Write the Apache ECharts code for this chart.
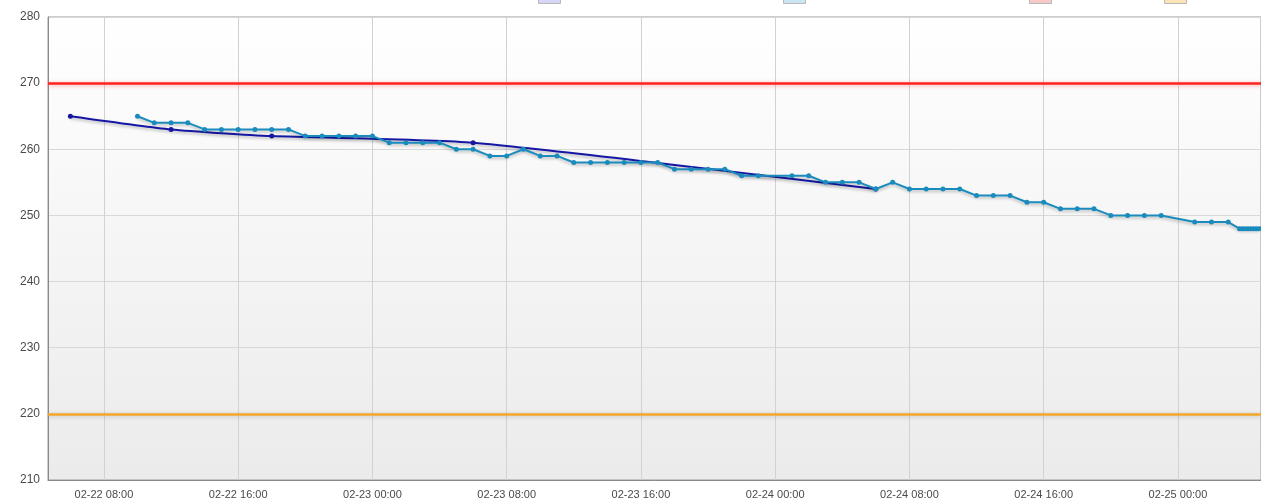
<!DOCTYPE html>
<html>
<head>
<meta charset="utf-8">
<title>液位趋势</title>
<script src="https://cdn.jsdelivr.net/npm/echarts@6/dist/echarts.min.js"></script>
<style>
html, body { margin: 0; padding: 0; background: #fff; }
#chart { width: 1261px; height: 501px; }
</style>
</head>
<body>
<div id="chart"></div>
<script>
// 图例名称
const seriesNames = ['人工录入', '实时液位', '上限', '下限']

// 横轴范围与刻度
const xRange = ['2024-02-22 04:40', '2024-02-25 04:57']
const xTicks = [
  '2024-02-22 08:00', '2024-02-22 16:00', '2024-02-23 00:00',
  '2024-02-23 08:00', '2024-02-23 16:00', '2024-02-24 00:00',
  '2024-02-24 08:00', '2024-02-24 16:00', '2024-02-25 00:00'
]
const yRange = [210, 280]
const yStep = 10

// 人工录入
const manualTimes = ['2024-02-22 06:00', '2024-02-22 12:00', '2024-02-22 18:00', '2024-02-23 06:00', '2024-02-24 06:00']
const manualValues = [265, 263, 262, 261, 254]

// 实时液位
const liveTimes = [
  '2024-02-22 10:00', '2024-02-22 11:00', '2024-02-22 12:00', '2024-02-22 13:00', '2024-02-22 14:00',
  '2024-02-22 15:00', '2024-02-22 16:00', '2024-02-22 17:00', '2024-02-22 18:00', '2024-02-22 19:00',
  '2024-02-22 20:00', '2024-02-22 21:00', '2024-02-22 22:00', '2024-02-22 23:00', '2024-02-23 00:00',
  '2024-02-23 01:00', '2024-02-23 02:00', '2024-02-23 03:00', '2024-02-23 04:00', '2024-02-23 05:00',
  '2024-02-23 06:00', '2024-02-23 07:00', '2024-02-23 08:00', '2024-02-23 09:00', '2024-02-23 10:00',
  '2024-02-23 11:00', '2024-02-23 12:00', '2024-02-23 13:00', '2024-02-23 14:00', '2024-02-23 15:00',
  '2024-02-23 16:00', '2024-02-23 17:00', '2024-02-23 18:00', '2024-02-23 19:00', '2024-02-23 20:00',
  '2024-02-23 21:00', '2024-02-23 22:00', '2024-02-23 23:00', '2024-02-24 01:00', '2024-02-24 02:00',
  '2024-02-24 03:00', '2024-02-24 04:00', '2024-02-24 05:00', '2024-02-24 06:00', '2024-02-24 07:00',
  '2024-02-24 08:00', '2024-02-24 09:00', '2024-02-24 10:00', '2024-02-24 11:00', '2024-02-24 12:00',
  '2024-02-24 13:00', '2024-02-24 14:00', '2024-02-24 15:00', '2024-02-24 16:00', '2024-02-24 17:00',
  '2024-02-24 18:00', '2024-02-24 19:00', '2024-02-24 20:00', '2024-02-24 21:00', '2024-02-24 22:00',
  '2024-02-24 23:00', '2024-02-25 01:00', '2024-02-25 02:00', '2024-02-25 03:00',
  '2024-02-25 03:40', '2024-02-25 03:50', '2024-02-25 04:00', '2024-02-25 04:10', '2024-02-25 04:20',
  '2024-02-25 04:30', '2024-02-25 04:40', '2024-02-25 04:50'
]
const liveValues = [
  265, 264, 264, 264, 263,
  263, 263, 263, 263, 263,
  262, 262, 262, 262, 262,
  261, 261, 261, 261, 260,
  260, 259, 259, 260, 259,
  259, 258, 258, 258, 258,
  258, 258, 257, 257, 257,
  257, 256, 256, 256, 256,
  255, 255, 255, 254, 255,
  254, 254, 254, 254, 253,
  253, 253, 252, 252, 251,
  251, 251, 250, 250, 250,
  250, 249, 249, 249,
  248, 248, 248, 248, 248,
  248, 248, 248
]

// 上下限
const upperLimit = 270
const lowerLimit = 220

const toPairs = (times, values) => times.map((t, i) => [t, values[i]])
const tickStamps = xTicks.map(t => echarts.time.parse(t).getTime())

const chart = echarts.init(document.getElementById('chart'))

const limitSeries = (name, value, color, glow) => ({
  name,
  type: 'line',
  data: [],
  itemStyle: { color },
  markLine: {
    silent: true,
    symbol: 'none',
    label: { show: false },
    lineStyle: {
      color,
      type: 'solid',
      width: 2.5,
      shadowColor: glow,
      shadowBlur: 4,
      shadowOffsetY: 1
    },
    data: [{ yAxis: value }]
  }
})

// 图例只露出底边
const legendAt = (name, left, fill) => ({
  left,
  top: -15,
  padding: 0,
  icon: 'rect',
  itemWidth: 22,
  itemHeight: 18,
  textStyle: { color: '#333', fontSize: 11 },
  data: [{ name, itemStyle: { color: fill, borderColor: '#b8b8b8', borderWidth: 1 } }]
})

const option = {
  animation: false,
  legend: [
    legendAt(seriesNames[0], 538, '#d6d6f7'),
    legendAt(seriesNames[1], 783, '#cbe6f2'),
    legendAt(seriesNames[2], 1029, '#f8c9c9'),
    legendAt(seriesNames[3], 1164, '#fbe4b8')
  ],
  grid: {
    left: 48,
    right: -3,
    top: 17,
    bottom: 21,
    show: true,
    borderColor: '#9a9a9a',
    borderWidth: 1,
    backgroundColor: new echarts.graphic.LinearGradient(0, 0, 0, 1, [
      { offset: 0, color: '#ffffff' },
      { offset: 1, color: '#ebebeb' }
    ])
  },
  xAxis: {
    type: 'time',
    min: xRange[0],
    max: xRange[1],
    axisLine: { lineStyle: { color: '#8a8a8a', width: 1 } },
    axisTick: { show: false, customValues: tickStamps },
    axisLabel: {
      customValues: tickStamps,
      formatter: '{MM}-{dd} {HH}:{mm}',
      color: '#4a4a4a',
      fontSize: 11,
      fontFamily: 'Liberation Sans, Arial, sans-serif',
      margin: 9
    },
    splitLine: { show: true, lineStyle: { color: '#d2d2d2' } }
  },
  yAxis: {
    type: 'value',
    min: yRange[0],
    max: yRange[1],
    interval: yStep,
    axisLine: { show: true, lineStyle: { color: '#8a8a8a' } },
    axisTick: { show: false },
    axisLabel: {
      color: '#4a4a4a',
      fontSize: 12,
      fontFamily: 'Liberation Sans, Arial, sans-serif',
      margin: 8
    },
    splitLine: { lineStyle: { color: '#d8d8d8' } }
  },
  series: [
    {
      name: seriesNames[0],
      type: 'line',
      data: toPairs(manualTimes, manualValues),
      smooth: 0.2,
      symbol: 'circle',
      symbolSize: 5,
      itemStyle: { color: '#1616a4' },
      lineStyle: {
        width: 2,
        shadowColor: 'rgba(0, 0, 0, 0.25)',
        shadowBlur: 3,
        shadowOffsetY: 2
      },
      z: 3
    },
    {
      name: seriesNames[1],
      type: 'line',
      data: toPairs(liveTimes, liveValues),
      symbol: 'circle',
      symbolSize: 5,
      itemStyle: { color: '#1a8bbd' },
      lineStyle: {
        width: 2,
        shadowColor: 'rgba(0, 0, 0, 0.25)',
        shadowBlur: 3,
        shadowOffsetY: 2
      },
      z: 4
    },
    limitSeries(seriesNames[2], upperLimit, '#ff2222', 'rgba(255, 60, 60, 0.45)'),
    limitSeries(seriesNames[3], lowerLimit, '#f4a62a', 'rgba(0, 0, 0, 0.2)')
  ]
}

chart.setOption(option)
</script>
</body>
</html>
